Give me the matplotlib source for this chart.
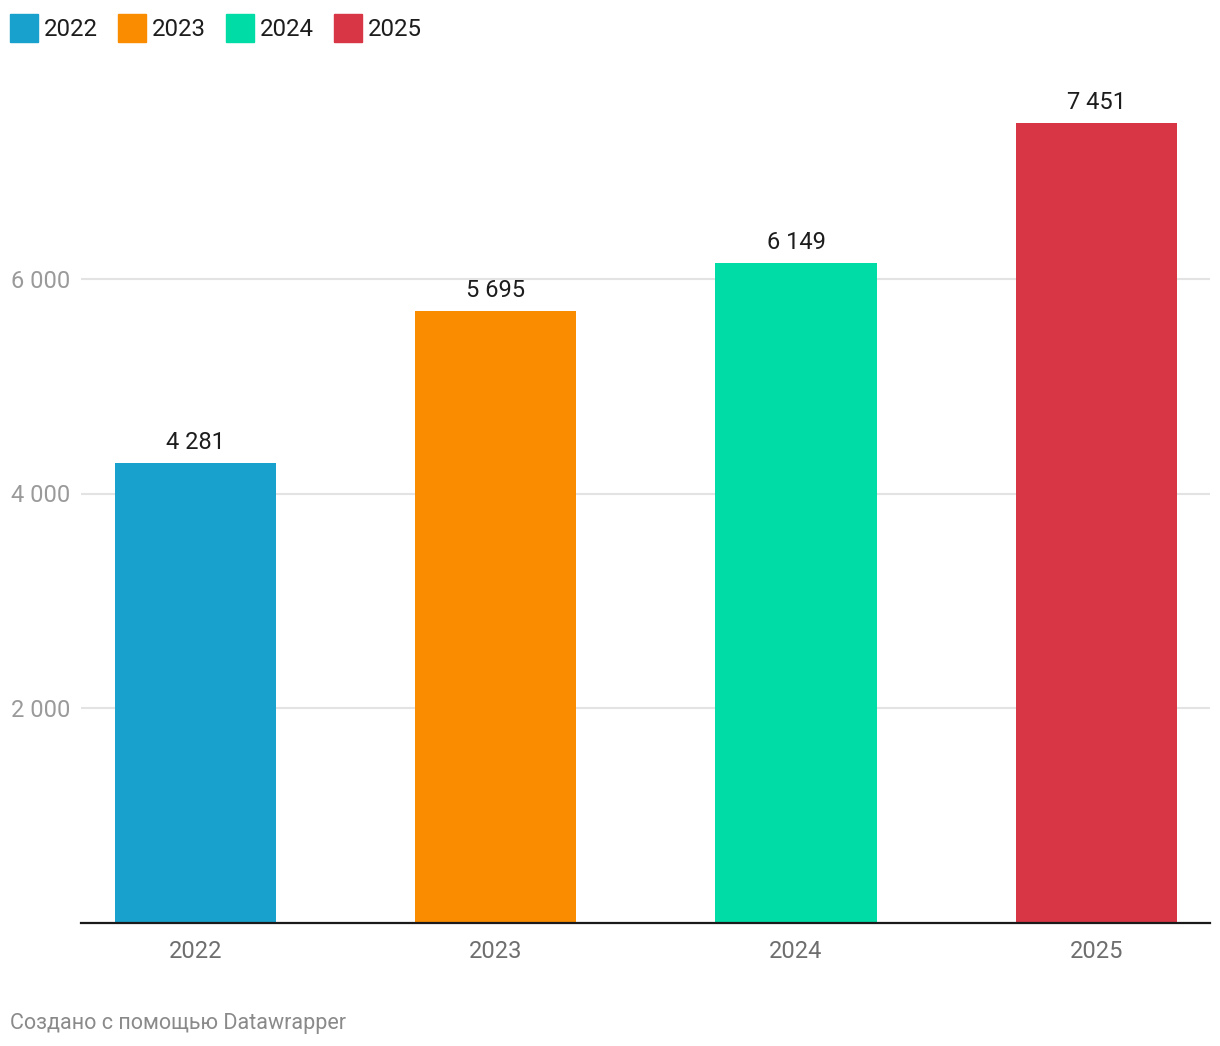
import matplotlib
matplotlib.use("Agg")
import matplotlib.pyplot as plt
from matplotlib.patches import Rectangle

years = ["2022", "2023", "2024", "2025"]
values = [4281, 5695, 6149, 7451]
colors = ["#18a1cd", "#fa8c00", "#00dca6", "#d83545"]
y_ticks = [2000, 4000, 6000]

plt.rcParams["font.family"] = ["Roboto", "DejaVu Sans"]

W, H = 1220, 1046
fig = plt.figure(figsize=(W / 100, H / 100), dpi=100)
ax = fig.add_axes([81 / W, (H - 923) / H, (1210 - 81) / W, (923 - 64) / H])

x = list(range(len(years)))
ax.bar(x, values, width=0.536, color=colors, zorder=3)

ax.set_xlim(-0.38, 3.378)
ax.set_ylim(0, 8000)

ax.set_yticks(y_ticks)
ax.set_yticklabels([f"{v:,}".replace(",", " ") for v in y_ticks])
ax.set_xticks(x)
ax.set_xticklabels(years)
ax.tick_params(axis="y", length=0, pad=8, labelsize=17, labelcolor="#9a9a9a")
ax.tick_params(axis="x", length=0, pad=12.5, labelsize=17, labelcolor="#6e6e6e")

ax.grid(axis="y", color="#e3e3e3", linewidth=1.5, zorder=0)
for s in ["top", "right", "left"]:
    ax.spines[s].set_visible(False)
ax.spines["bottom"].set_color("#1a1a1a")
ax.spines["bottom"].set_linewidth(1.6)
ax.spines["bottom"].set_zorder(4)

for xi, v in zip(x, values):
    ax.annotate(f"{v:,}".replace(",", " "), (xi, v), xytext=(0, 6.5), textcoords="offset points",
                ha="center", va="bottom", fontsize=17, color="#1d1d1d")

# legend
lx = 10
for yr, c in zip(years, colors):
    fig.patches.append(Rectangle((lx / W, (H - 42) / H), 28 / W, 28 / H,
                                 transform=fig.transFigure, color=c))
    fig.text((lx + 34) / W, (H - 29.5) / H, yr, fontsize=17.3, color="#1d1d1d", va="center", ha="left")
    lx += 108

fig.text(10 / W, (H - 1023.5) / H, "Создано с помощью Datawrapper", fontsize=15.5,
         color="#8a8a8a", va="center", ha="left")

fig.savefig("out.png", dpi=100)
